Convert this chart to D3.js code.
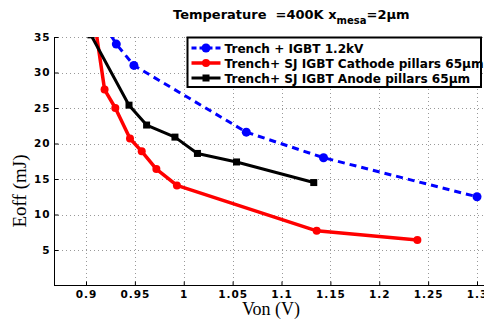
<!DOCTYPE html>
<html>
<head>
<meta charset="utf-8">
<script src="https://cdn.jsdelivr.net/npm/d3@7"></script>
<style>
  body { margin: 0; background: #fff; }
  svg { display: block; }
  .tick text { font-family: "DejaVu Sans", sans-serif; font-weight: bold; font-size: 10.5px; letter-spacing: 1px; fill: #000; }
</style>
</head>
<body>
<div id="container"></div>
<script>
// data
const seriesNames = [
  'Trench + IGBT 1.2kV',
  'Trench+ SJ IGBT Cathode pillars 65\u03bcm',
  'Trench+ SJ IGBT Anode pillars 65\u03bcm'
];
const trenchVon  = [0.913, 0.931, 0.949, 1.064, 1.143, 1.300];
const trenchEoff = [38.0, 34.0, 31.0, 21.6, 18.0, 12.5];
const cathodeVon  = [0.910, 0.919, 0.930, 0.945, 0.957, 0.972, 0.993, 1.136, 1.239];
const cathodeEoff = [36.0, 27.6, 25.0, 20.7, 18.9, 16.4, 14.1, 7.7, 6.4];
const anodeVon  = [0.905, 0.944, 0.962, 0.991, 1.014, 1.054, 1.133];
const anodeEoff = [35.3, 25.4, 22.6, 20.9, 18.6, 17.4, 14.5];
const xTicks = [0.9, 0.95, 1, 1.05, 1.1, 1.15, 1.2, 1.25, 1.3];
const yTicks = [5, 10, 15, 20, 25, 30, 35];

const width = 484, height = 324;
const margin = { top: 37, left: 54 };
const plotRight = 500, plotBottom = 285.5;

const svg = d3.select('#container').append('svg')
  .attr('width', width)
  .attr('height', height);

const x = d3.scaleLinear().domain([0.9, 1.3]).range([86, 477]);
const y = d3.scaleLinear().domain([0, 35]).range([plotBottom, margin.top]);

svg.append('defs').append('clipPath').attr('id', 'clip')
  .append('rect')
  .attr('x', margin.left).attr('y', margin.top)
  .attr('width', plotRight - margin.left).attr('height', plotBottom - margin.top);

// grid
const grid = svg.append('g').attr('stroke', '#999').attr('stroke-width', 1).attr('stroke-dasharray', '1,3');
grid.selectAll('.gx').data(xTicks).enter().append('line')
  .attr('x1', d => Math.round(x(d)) + 0.5).attr('x2', d => Math.round(x(d)) + 0.5)
  .attr('y1', margin.top).attr('y2', plotBottom);
grid.selectAll('.gy').data(yTicks).enter().append('line')
  .attr('x1', margin.left).attr('x2', plotRight)
  .attr('y1', d => Math.round(y(d)) + 0.5).attr('y2', d => Math.round(y(d)) + 0.5);

// axes
const xAxis = d3.axisBottom(x).tickValues(xTicks).tickSizeInner(-4).tickSizeOuter(0).tickPadding(5).tickFormat(d3.format('~g'));
const yAxis = d3.axisLeft(y).tickValues(yTicks).tickSizeInner(-4).tickSizeOuter(0).tickPadding(4).tickFormat(d3.format('~g'));

const gx = svg.append('g')
  .attr('transform', `translate(0, ${Math.round(plotBottom) - 0.5})`)
  .call(xAxis);
gx.select('.domain').attr('d', `M${margin.left},0H${plotRight}`).attr('stroke', '#000');

const gy = svg.append('g')
  .attr('transform', `translate(${margin.left + 0.5}, 0)`)
  .call(yAxis);
gy.select('.domain').attr('d', `M0,${margin.top}V${plotBottom}`).attr('stroke', '#000');

// series
const series = [
  { name: seriesNames[0], xs: trenchVon,  ys: trenchEoff,  color: '#0000ff', dash: '7,5', marker: 'circle', r: 4.5, w: 3 },
  { name: seriesNames[1], xs: cathodeVon, ys: cathodeEoff, color: '#ff0000', dash: null,  marker: 'circle', r: 4,   w: 3.5 },
  { name: seriesNames[2], xs: anodeVon,   ys: anodeEoff,   color: '#000000', dash: null,  marker: 'square', r: 3.5, w: 3 }
];

const line = d3.line().x(d => x(d[0])).y(d => y(d[1]));
const plot = svg.append('g').attr('clip-path', 'url(#clip)');

function drawMarker(g, type, cx, cy, r, color) {
  if (type === 'circle') {
    g.append('circle').attr('cx', cx).attr('cy', cy).attr('r', r).attr('fill', color);
  } else {
    g.append('rect').attr('x', cx - r).attr('y', cy - r).attr('width', 2 * r).attr('height', 2 * r).attr('fill', color);
  }
}

series.forEach(s => {
  const pts = s.xs.map((v, i) => [v, s.ys[i]]);
  plot.append('path')
    .datum(pts)
    .attr('d', line)
    .attr('fill', 'none')
    .attr('stroke', s.color)
    .attr('stroke-width', s.w)
    .attr('stroke-linejoin', 'round')
    .attr('stroke-dasharray', s.dash);
  pts.forEach(p => drawMarker(plot, s.marker, x(p[0]), y(p[1]), s.r, s.color));
});

// legend
const legend = svg.append('g').attr('transform', 'translate(187.5, 37.5)');
legend.append('rect')
  .attr('width', 293.5).attr('height', 49.5)
  .attr('fill', '#fff').attr('stroke', '#000').attr('stroke-width', 2);
series.forEach((s, i) => {
  const ly = 10.5 + i * 15;
  legend.append('line')
    .attr('x1', 4).attr('x2', 33).attr('y1', ly).attr('y2', ly)
    .attr('stroke', s.color).attr('stroke-width', s.w)
    .attr('stroke-dasharray', s.dash ? '5,3' : null);
  drawMarker(legend, s.marker, 18.5, ly, s.r, s.color);
  legend.append('text')
    .attr('x', 37).attr('y', ly + 4.5)
    .attr('font-family', '"DejaVu Sans", sans-serif')
    .attr('font-weight', 'bold').attr('font-size', 12.1)
    .text(s.name);
});

// title
const title = svg.append('text')
  .attr('x', 173).attr('y', 19)
  .attr('xml:space', 'preserve')
  .style('white-space', 'pre')
  .attr('font-family', '"DejaVu Sans", sans-serif')
  .attr('font-weight', 'bold').attr('font-size', 13);
title.append('tspan').text('Temperature  =400K x');
title.append('tspan').attr('font-size', 10).attr('dy', 5).text('mesa');
title.append('tspan').attr('dy', -5).text('=2\u03bcm');

// axis labels
svg.append('text')
  .attr('x', 271).attr('y', 315)
  .attr('text-anchor', 'middle')
  .attr('font-family', '"Liberation Serif", "DejaVu Serif", serif')
  .attr('font-size', 18)
  .text('Von (V)');

svg.append('text')
  .attr('transform', 'translate(26, 191) rotate(-90)')
  .attr('text-anchor', 'middle')
  .attr('font-family', '"Liberation Serif", "DejaVu Serif", serif')
  .attr('font-size', 19)
  .text('Eoff (mJ)');
</script>
</body>
</html>
